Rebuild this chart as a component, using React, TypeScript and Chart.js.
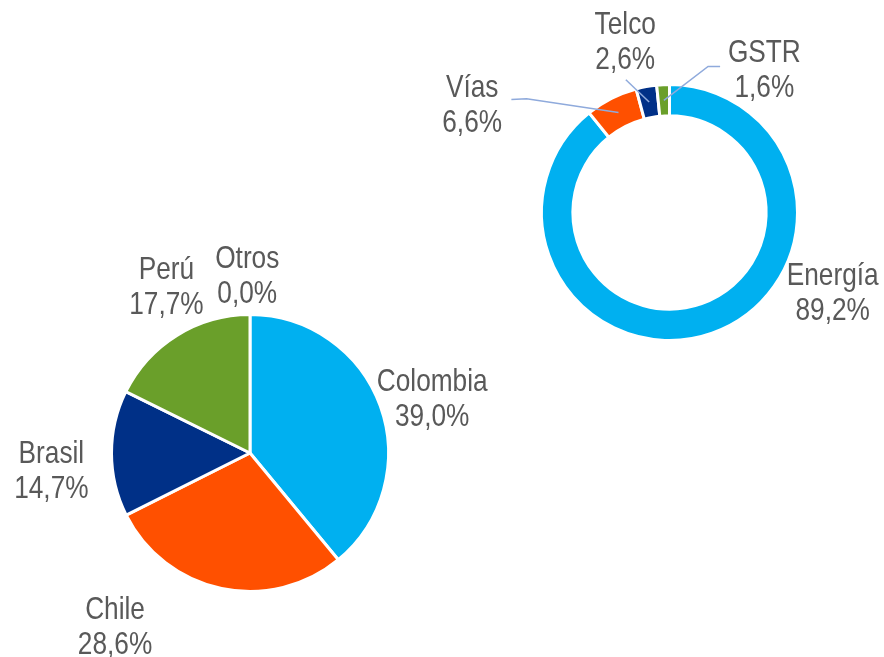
import React, { useEffect, useRef } from "react";
import { Chart, registerables } from "chart.js";

Chart.register(...registerables);

// ---- data ----
const regionLabels = ["Colombia", "Chile", "Brasil", "Perú", "Otros"];
const regionValues = [39.0, 28.6, 14.7, 17.7, 0.0];

const businessLabels = ["Energía", "Vías", "Telco", "GSTR"];
const businessValues = [89.2, 6.6, 2.6, 1.6];

// ---- styles / layout ----
const regionColors = ["#00B0F0", "#FF5000", "#003087", "#6A9F2A", "#A6A6A6"];
const businessColors = ["#00B0F0", "#FF5000", "#003087", "#6A9F2A"];
const TEXT_COLOR = "#595959";
const LEADER_COLOR = "#8FAADC";
const FONT = "32px 'Liberation Sans', Arial, sans-serif";
const NARROW = 0.82; // horizontal condensing to imitate a narrow face
const LINE_GAP = 35;
const W = 884;
const H = 657;

// label centres, in units of radius, relative to the arc centre
const regionLabelPos: [number, number][] = [
  [1.33, -0.41],
  [-0.985, 1.25],
  [-1.45, 0.11],
  [-0.61, -1.23],
  [-0.02, -1.31],
];
const businessLabelPos: [number, number][] = [
  [1.29, 0.62],
  [-1.56, -0.87],
  [-0.35, -1.37],
  [0.75, -1.15],
];
// leader line start points (radius units), end at the slice middle
const businessLeaders: ([number, number][] | null)[] = [
  null,
  [[-1.25, -0.893], [-1.13, -0.9]],
  [[-0.345, -1.05]],
  [[0.4, -1.155], [0.305, -1.155]],
];

const fmt = (v: number) => v.toFixed(1).replace(".", ",") + "%";

function makeLabelPlugin(pos: [number, number][], leaders: ([number, number][] | null)[] | null) {
  return {
    id: "outLabels",
    afterDraw(chart: any) {
      const ctx = chart.ctx as CanvasRenderingContext2D;
      const meta = chart.getDatasetMeta(0);
      const labels = chart.data.labels as string[];
      const data = chart.data.datasets[0].data as number[];
      meta.data.forEach((el: any, i: number) => {
        const p = el.getProps(["x", "y", "outerRadius", "innerRadius", "startAngle", "endAngle"], true);
        const R = p.outerRadius - 1.5;
        const ld = leaders ? leaders[i] : null;
        if (ld) {
          const mid = (p.startAngle + p.endAngle) / 2;
          const rr = (p.innerRadius + p.outerRadius) / 2;
          ctx.save();
          ctx.beginPath();
          ctx.strokeStyle = LEADER_COLOR;
          ctx.lineWidth = 1.5;
          ld.forEach((pt, k) => {
            const px = p.x + pt[0] * R;
            const py = p.y + pt[1] * R;
            if (k === 0) ctx.moveTo(px, py);
            else ctx.lineTo(px, py);
          });
          ctx.lineTo(p.x + Math.cos(mid) * rr, p.y + Math.sin(mid) * rr);
          ctx.stroke();
          ctx.restore();
        }
        const cx = p.x + pos[i][0] * R;
        const cy = p.y + pos[i][1] * R;
        const lines = [labels[i], fmt(data[i])];
        lines.forEach((t, k) => {
          ctx.save();
          ctx.translate(cx, cy + (k - 0.5) * LINE_GAP + 12);
          ctx.scale(NARROW, 1);
          ctx.font = FONT;
          ctx.fillStyle = TEXT_COLOR;
          ctx.textAlign = "center";
          ctx.textBaseline = "alphabetic";
          ctx.fillText(t, 0, 0);
          ctx.restore();
        });
      });
    },
  };
}

export default function App() {
  const pieRef = useRef<HTMLCanvasElement>(null);
  const donutRef = useRef<HTMLCanvasElement>(null);

  useEffect(() => {
    const pie = new Chart(pieRef.current as HTMLCanvasElement, {
      type: "pie",
      data: {
        labels: regionLabels,
        datasets: [
          {
            data: regionValues,
            backgroundColor: regionColors,
            borderColor: "#FFFFFF",
            borderWidth: 3,
          },
        ],
      },
      options: {
        responsive: false,
        animation: false,
        devicePixelRatio: 1,
        layout: { padding: { left: 110, top: 313, right: W - 390, bottom: H - 593 } },
        plugins: { legend: { display: false }, tooltip: { enabled: false } },
      },
      plugins: [makeLabelPlugin(regionLabelPos, null)],
    } as any);

    const donut = new Chart(donutRef.current as HTMLCanvasElement, {
      type: "doughnut",
      data: {
        labels: businessLabels,
        datasets: [
          {
            data: businessValues,
            backgroundColor: businessColors,
            borderColor: "#FFFFFF",
            borderWidth: 3,
          },
        ],
      },
      options: {
        responsive: false,
        animation: false,
        devicePixelRatio: 1,
        cutout: "75.5%",
        layout: { padding: { left: 540, top: 83, right: W - 799, bottom: H - 342 } },
        plugins: { legend: { display: false }, tooltip: { enabled: false } },
      },
      plugins: [makeLabelPlugin(businessLabelPos, businessLeaders)],
    } as any);

    return () => {
      pie.destroy();
      donut.destroy();
    };
  }, []);

  return (
    <div style={{ position: "fixed", left: 0, top: 0, width: W, height: H, background: "#FFFFFF" }}>
      <canvas ref={pieRef} width={W} height={H} style={{ position: "absolute", left: 0, top: 0 }} />
      <canvas ref={donutRef} width={W} height={H} style={{ position: "absolute", left: 0, top: 0 }} />
    </div>
  );
}
